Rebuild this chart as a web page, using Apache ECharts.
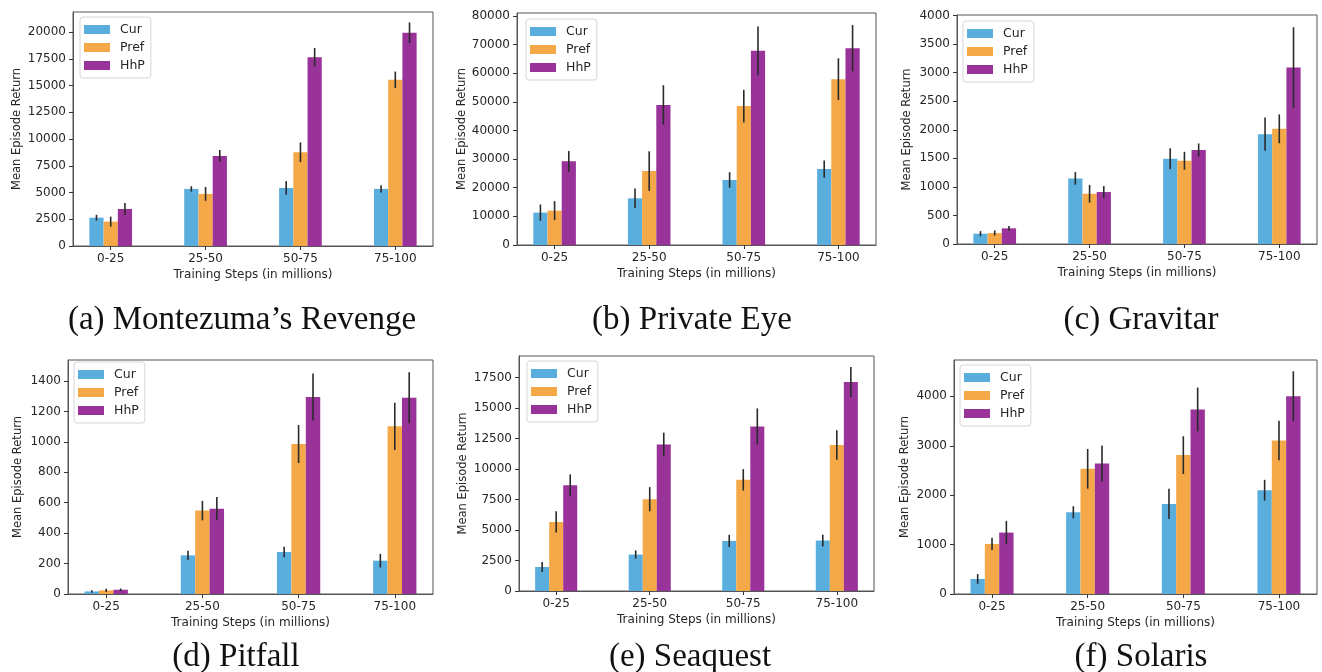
<!DOCTYPE html>
<html><head><meta charset="utf-8">
<script src="https://cdn.jsdelivr.net/npm/echarts@6/dist/echarts.min.js"></script>
<style>html,body{margin:0;padding:0;background:#fff}#c{width:1322px;height:672px}</style>
</head><body><div id="c"></div>
<script>
// ---------- DATA ----------
const categories = ['0-25', '25-50', '50-75', '75-100'];
const seriesNames = ['Cur', 'Pref', 'HhP'];
const captions = ['(a) Montezuma\u2019s Revenge', '(b) Private Eye', '(c) Gravitar', '(d) Pitfall', '(e) Seaquest', '(f) Solaris'];
const xAxisTitle = 'Training Steps (in millions)';
const yAxisTitle = 'Mean Episode Return';

// (a) Montezuma's Revenge
const montezumaCur = [2650, 5340, 5430, 5340];
const montezumaPref = [2280, 4870, 8770, 15540];
const montezumaHhP = [3460, 8420, 17660, 19940];
const montezumaCurErr = [270, 250, 640, 330];
const montezumaPrefErr = [470, 650, 920, 770];
const montezumaHhPErr = [550, 550, 850, 970];
const montezumaTicks = [0, 2500, 5000, 7500, 10000, 12500, 15000, 17500, 20000];

// (b) Private Eye
const privateEyeCur = [11300, 16300, 22700, 26500];
const privateEyePref = [12000, 25800, 48500, 57900];
const privateEyeHhP = [29200, 48900, 67800, 68700];
const privateEyeCurErr = [2850, 3400, 2700, 3000];
const privateEyePrefErr = [3300, 6900, 5700, 7300];
const privateEyeHhPErr = [3600, 6900, 8500, 8100];
const privateEyeTicks = [0, 10000, 20000, 30000, 40000, 50000, 60000, 70000, 80000];

// (c) Gravitar
const gravitarCur = [181, 1149, 1493, 1924];
const gravitarPref = [192, 880, 1458, 2017];
const gravitarHhP = [274, 910, 1644, 3090];
const gravitarCurErr = [44, 110, 183, 291];
const gravitarPrefErr = [46, 155, 157, 253];
const gravitarHhPErr = [41, 105, 117, 705];
const gravitarTicks = [0, 500, 1000, 1500, 2000, 2500, 3000, 3500, 4000];

// (d) Pitfall
const pitfallCur = [17, 254, 276, 219];
const pitfallPref = [24, 548, 986, 1102];
const pitfallHhP = [28, 561, 1295, 1290];
const pitfallCurErr = [8, 31, 34, 45];
const pitfallPrefErr = [11, 64, 125, 155];
const pitfallHhPErr = [8, 77, 155, 168];
const pitfallTicks = [0, 200, 400, 600, 800, 1000, 1200, 1400];

// (e) Seaquest
const seaquestCur = [1970, 2990, 4110, 4140];
const seaquestPref = [5670, 7530, 9120, 11970];
const seaquestHhP = [8680, 12020, 13500, 17150];
const seaquestCurErr = [410, 340, 500, 480];
const seaquestPrefErr = [880, 990, 880, 1210];
const seaquestHhPErr = [890, 970, 1480, 1230];
const seaquestTicks = [0, 2500, 5000, 7500, 10000, 12500, 15000, 17500];

// (f) Solaris
const solarisCur = [304, 1655, 1824, 2101];
const solarisPref = [1014, 2534, 2811, 3108];
const solarisHhP = [1243, 2642, 3736, 4000];
const solarisCurErr = [98, 122, 307, 210];
const solarisPrefErr = [122, 402, 382, 399];
const solarisHhPErr = [237, 362, 443, 507];
const solarisTicks = [0, 1000, 2000, 3000, 4000];

// ---------- LAYOUT / STYLE ----------
const colors = ['#5aaede', '#f5a848', '#9a3399'];
const offsets = [-0.15, 0, 0.15];
const barUnits = 0.15;
const xMin = -0.3975, xMax = 3.3975;
const FONT = 'DejaVu Sans';
const TXT = '#262626';
const FRAME = '#555555';

const panels = [
  {mean: [montezumaCur, montezumaPref, montezumaHhP], err: [montezumaCurErr, montezumaPrefErr, montezumaHhPErr], ticks: montezumaTicks,
   grid: {left: 73, top: 12, width: 360, height: 234}, ymax: 21880, nameGap: 50, legend: {left: 80, top: 17}, cap: [242, 320]},
  {mean: [privateEyeCur, privateEyePref, privateEyeHhP], err: [privateEyeCurErr, privateEyePrefErr, privateEyeHhPErr], ticks: privateEyeTicks,
   grid: {left: 517, top: 13, width: 359, height: 232}, ymax: 81000, nameGap: 47, legend: {left: 526, top: 19}, cap: [692, 320]},
  {mean: [gravitarCur, gravitarPref, gravitarHhP], err: [gravitarCurErr, gravitarPrefErr, gravitarHhPErr], ticks: gravitarTicks,
   grid: {left: 957, top: 15, width: 360, height: 229}, ymax: 4010, nameGap: 44, legend: {left: 963, top: 21}, cap: [1141, 320]},
  {mean: [pitfallCur, pitfallPref, pitfallHhP], err: [pitfallCurErr, pitfallPrefErr, pitfallHhPErr], ticks: pitfallTicks,
   grid: {left: 68, top: 360, width: 365, height: 234}, ymax: 1538, nameGap: 44, legend: {left: 74, top: 362}, cap: [236, 657]},
  {mean: [seaquestCur, seaquestPref, seaquestHhP], err: [seaquestCurErr, seaquestPrefErr, seaquestHhPErr], ticks: seaquestTicks,
   grid: {left: 519, top: 356, width: 355, height: 235}, ymax: 19280, nameGap: 50, legend: {left: 527, top: 361}, cap: [690, 657]},
  {mean: [solarisCur, solarisPref, solarisHhP], err: [solarisCurErr, solarisPrefErr, solarisHhPErr], ticks: solarisTicks,
   grid: {left: 954, top: 360, width: 363, height: 234}, ymax: 4736, nameGap: 43, legend: {left: 960, top: 365}, cap: [1141, 657]}
];

const grids = [], xAxes = [], yAxes = [], series = [], legends = [], graphics = [];
panels.forEach((p, k) => {
  grids.push(Object.assign({show: true, borderColor: FRAME, borderWidth: 1, backgroundColor: 'transparent'}, p.grid));
  xAxes.push({
    type: 'value', gridIndex: k, min: xMin, max: xMax,
    name: xAxisTitle, nameLocation: 'middle', nameGap: 23,
    nameTextStyle: {fontFamily: FONT, fontSize: 12, color: TXT},
    axisLine: {show: true, onZero: false, lineStyle: {color: FRAME, width: 1}},
    axisTick: {show: true, length: 4, lineStyle: {color: '#333'}, customValues: [0, 1, 2, 3]},
    axisLabel: {show: true, margin: 7, fontFamily: FONT, fontSize: 12, color: TXT, customValues: [0, 1, 2, 3],
      formatter: v => categories[Math.round(v)]},
    splitLine: {show: false}
  });
  yAxes.push({
    type: 'value', gridIndex: k, min: 0, max: p.ymax,
    name: yAxisTitle, nameLocation: 'middle', nameGap: p.nameGap,
    nameTextStyle: {fontFamily: FONT, fontSize: 11.5, color: TXT},
    axisLine: {show: true, onZero: false, lineStyle: {color: FRAME, width: 1}},
    axisTick: {show: true, length: 4, lineStyle: {color: '#333'}, customValues: p.ticks},
    axisLabel: {show: true, margin: 7, fontFamily: FONT, fontSize: 12, color: TXT, customValues: p.ticks,
      formatter: v => String(v)},
    splitLine: {show: false}
  });
  const pxPerUnit = p.grid.width / (xMax - xMin);
  const bw = barUnits * pxPerUnit;
  seriesNames.forEach((nm, s) => {
    series.push({
      type: 'bar', name: nm, xAxisIndex: k, yAxisIndex: k,
      barWidth: bw, barGap: '-100%',
      itemStyle: {color: colors[s]},
      data: categories.map((c, i) => [i + offsets[s], p.mean[s][i]])
    });
  });
  seriesNames.forEach((nm, s) => {
    series.push({
      type: 'custom', xAxisIndex: k, yAxisIndex: k, z: 5, silent: true,
      encode: {x: 0, y: [1, 2]},
      data: categories.map((c, i) => [i + offsets[s], p.mean[s][i] - p.err[s][i], p.mean[s][i] + p.err[s][i]]),
      renderItem: (params, api) => {
        const a = api.coord([api.value(0), api.value(1)]);
        const b = api.coord([api.value(0), api.value(2)]);
        return {type: 'line', shape: {x1: a[0], y1: a[1], x2: b[0], y2: b[1]},
          style: {stroke: '#2a2a2a', lineWidth: 1.6}};
      }
    });
  });
  legends.push({
    orient: 'vertical', left: p.legend.left, top: p.legend.top,
    data: seriesNames, icon: 'rect', itemWidth: 26, itemHeight: 9, itemGap: 5,
    selectedMode: false,
    backgroundColor: '#fff', borderColor: '#d6d6d6', borderWidth: 1, borderRadius: 3,
    padding: [6, 6, 6, 4],
    textStyle: {fontFamily: FONT, fontSize: 12.5, color: TXT, padding: [0, 0, 0, 5]}
  });
  graphics.push({
    type: 'text', x: p.cap[0], y: p.cap[1],
    style: {text: captions[k], fontFamily: 'Liberation Serif', fontSize: 33, fill: '#111',
      textAlign: 'center', textVerticalAlign: 'middle'}
  });
});

const chart = echarts.init(document.getElementById('c'), null, {renderer: 'canvas'});
chart.setOption({
  animation: false,
  backgroundColor: '#fff',
  grid: grids, xAxis: xAxes, yAxis: yAxes, series: series, legend: legends, graphic: graphics
});
</script>
</body></html>
